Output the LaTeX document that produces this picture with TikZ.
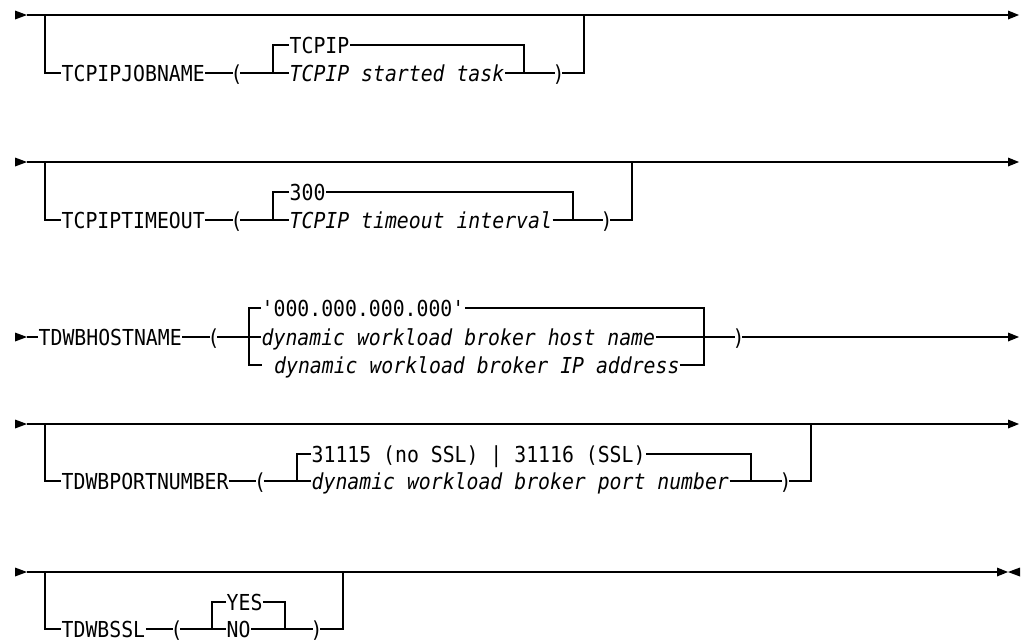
\documentclass[tikz,border=0pt]{standalone}
\usepackage{fontspec}
\newfontfamily\rrfont[FakeStretch=0.9]{DejaVu Sans Mono}
\begin{document}
\begin{tikzpicture}[x=1pt,y=-1pt,
  rail/.style={line width=1.15pt,line join=miter},
  kw/.style={inner xsep=0.5pt,inner ysep=0pt,text height=16pt,text depth=0pt,
    anchor=west,font=\rrfont\fontsize{22pt}{26pt}\selectfont},
  var/.style={kw,font=\rrfont\itshape\fontsize{22pt}{26pt}\selectfont},
  paren/.style={kw,anchor=center,inner xsep=-2.2pt}]
\fill[white] (0,0) rectangle (1024,641);
\useasboundingbox (0,0) rectangle (1024,641);

% ---------- TCPIPJOBNAME ----------
\coordinate (a1s) at (27,15);
\coordinate (a1e) at (1008,15);
\coordinate (a1L) at (45,15);   \coordinate (a1Lb) at (45,73);
\coordinate (a1R) at (584,15);  \coordinate (a1Rb) at (584,73);
\coordinate (a1j) at (273,73);  \coordinate (a1jt) at (273,45);
\coordinate (a1k) at (524,73);  \coordinate (a1kt) at (524,45);
\node[kw]    (a1kw) at (61,73)    {TCPIPJOBNAME};
\node[paren] (a1lp) at (236.5,73) {(};
\node[kw]    (a1d)  at (289,45)   {TCPIP};
\node[var]   (a1v)  at (289,73)   {TCPIP started task};
\node[paren] (a1rp) at (558.5,73) {)};
\fill (a1s) -- ++(-12,-4.5) -- ++(0,9) -- cycle;
\draw[rail] (a1s) -- (a1e);
\fill (a1e) -- ++(0,-4.5) -- ++(11,4.5) -- ++(-11,4.5) -- cycle;
\draw[rail] (a1L) -- (a1Lb) -- (a1kw.west);
\draw[rail] (a1kw.east) -- (a1lp.west);
\draw[rail] (a1lp.east) -- (a1v.west);
\draw[rail] (a1d.west) -- (a1jt) -- (a1j);
\draw[rail] (a1d.east) -- (a1kt) -- (a1k);
\draw[rail] (a1v.east) -- (a1rp.west);
\draw[rail] (a1rp.east) -- (a1Rb) -- (a1R);

% ---------- TCPIPTIMEOUT ----------
\coordinate (a2s) at (27,162);
\coordinate (a2e) at (1008,162);
\coordinate (a2L) at (45,162);   \coordinate (a2Lb) at (45,220);
\coordinate (a2R) at (632,162);  \coordinate (a2Rb) at (632,220);
\coordinate (a2j) at (273,220);  \coordinate (a2jt) at (273,192);
\coordinate (a2k) at (573,220);  \coordinate (a2kt) at (573,192);
\node[kw]    (a2kw) at (61,220)    {TCPIPTIMEOUT};
\node[paren] (a2lp) at (236.5,220) {(};
\node[kw]    (a2d)  at (289,192)   {300};
\node[var]   (a2v)  at (289,220)   {TCPIP timeout interval};
\node[paren] (a2rp) at (606.5,220) {)};
\fill (a2s) -- ++(-12,-4.5) -- ++(0,9) -- cycle;
\draw[rail] (a2s) -- (a2e);
\fill (a2e) -- ++(0,-4.5) -- ++(11,4.5) -- ++(-11,4.5) -- cycle;
\draw[rail] (a2L) -- (a2Lb) -- (a2kw.west);
\draw[rail] (a2kw.east) -- (a2lp.west);
\draw[rail] (a2lp.east) -- (a2v.west);
\draw[rail] (a2d.west) -- (a2jt) -- (a2j);
\draw[rail] (a2d.east) -- (a2kt) -- (a2k);
\draw[rail] (a2v.east) -- (a2rp.west);
\draw[rail] (a2rp.east) -- (a2Rb) -- (a2R);

% ---------- TDWBHOSTNAME ----------
\coordinate (a3s) at (27,337);
\coordinate (a3e) at (1008,337);
\coordinate (a3jt) at (249,308);  \coordinate (a3jb) at (249,365);
\coordinate (a3stub) at (262,365);
\coordinate (a3kt) at (704,308);  \coordinate (a3kb) at (704,365);
\node[kw]    (a3kw) at (38,337)    {TDWBHOSTNAME};
\node[paren] (a3lp) at (213.5,337) {(};
\node[kw]    (a3d)  at (261,308)   {'000.000.000.000'};
\node[var]   (a3v)  at (261,337)   {dynamic workload broker host name};
\node[var]   (a3w)  at (273.5,365) {dynamic workload broker IP address};
\node[paren] (a3rp) at (738.5,337) {)};
\fill (a3s) -- ++(-12,-4.5) -- ++(0,9) -- cycle;
\draw[rail] (a3s) -- (a3kw.west);
\draw[rail] (a3kw.east) -- (a3lp.west);
\draw[rail] (a3lp.east) -- (a3v.west);
\draw[rail] (a3d.west) -- (a3jt) -- (a3jb) -- (a3stub);
\draw[rail] (a3d.east) -- (a3kt) -- (a3kb) -- (a3w.east);
\draw[rail] (a3v.east) -- (a3rp.west);
\draw[rail] (a3rp.east) -- (a3e);
\fill (a3e) -- ++(0,-4.5) -- ++(11,4.5) -- ++(-11,4.5) -- cycle;

% ---------- TDWBPORTNUMBER ----------
\coordinate (a4s) at (27,424);
\coordinate (a4e) at (1008,424);
\coordinate (a4L) at (45,424);   \coordinate (a4Lb) at (45,481);
\coordinate (a4R) at (811,424);  \coordinate (a4Rb) at (811,481);
\coordinate (a4j) at (297,481);  \coordinate (a4jt) at (297,454);
\coordinate (a4k) at (751,481);  \coordinate (a4kt) at (751,454);
\node[kw]    (a4kw) at (61,481)    {TDWBPORTNUMBER};
\node[paren] (a4lp) at (260,481)   {(};
\node[kw]    (a4d)  at (311,454)   {31115 (no SSL) | 31116 (SSL)};
\node[var]   (a4v)  at (311,481)   {dynamic workload broker port number};
\node[paren] (a4rp) at (785.5,481) {)};
\fill (a4s) -- ++(-12,-4.5) -- ++(0,9) -- cycle;
\draw[rail] (a4s) -- (a4e);
\fill (a4e) -- ++(0,-4.5) -- ++(11,4.5) -- ++(-11,4.5) -- cycle;
\draw[rail] (a4L) -- (a4Lb) -- (a4kw.west);
\draw[rail] (a4kw.east) -- (a4lp.west);
\draw[rail] (a4lp.east) -- (a4v.west);
\draw[rail] (a4d.west) -- (a4jt) -- (a4j);
\draw[rail] (a4d.east) -- (a4kt) -- (a4k);
\draw[rail] (a4v.east) -- (a4rp.west);
\draw[rail] (a4rp.east) -- (a4Rb) -- (a4R);

% ---------- TDWBSSL ----------
\coordinate (a5s) at (27,572);
\coordinate (a5e) at (997,572);
\coordinate (a5L) at (45,572);   \coordinate (a5Lb) at (45,629);
\coordinate (a5R) at (343,572);  \coordinate (a5Rb) at (343,629);
\coordinate (a5j) at (212,629);  \coordinate (a5jt) at (212,602);
\coordinate (a5k) at (285,629);  \coordinate (a5kt) at (285,602);
\node[kw]    (a5kw) at (61,629)    {TDWBSSL};
\node[paren] (a5lp) at (176.5,629) {(};
\node[kw]    (a5d)  at (226,602)   {YES};
\node[kw]    (a5v)  at (226,629)   {NO};
\node[paren] (a5rp) at (316.5,629) {)};
\fill (a5s) -- ++(-12,-4.5) -- ++(0,9) -- cycle;
\draw[rail] (a5s) -- (a5e);
\fill (a5e) -- ++(0,-4.5) -- ++(11,4.5) -- ++(-11,4.5) -- cycle;
\fill ([xshift=11pt]a5e) -- ++(12,-4.5) -- ++(0,9) -- cycle;
\draw[rail] (a5L) -- (a5Lb) -- (a5kw.west);
\draw[rail] (a5kw.east) -- (a5lp.west);
\draw[rail] (a5lp.east) -- (a5v.west);
\draw[rail] (a5d.west) -- (a5jt) -- (a5j);
\draw[rail] (a5d.east) -- (a5kt) -- (a5k);
\draw[rail] (a5v.east) -- (a5rp.west);
\draw[rail] (a5rp.east) -- (a5Rb) -- (a5R);
\end{tikzpicture}
\end{document}
